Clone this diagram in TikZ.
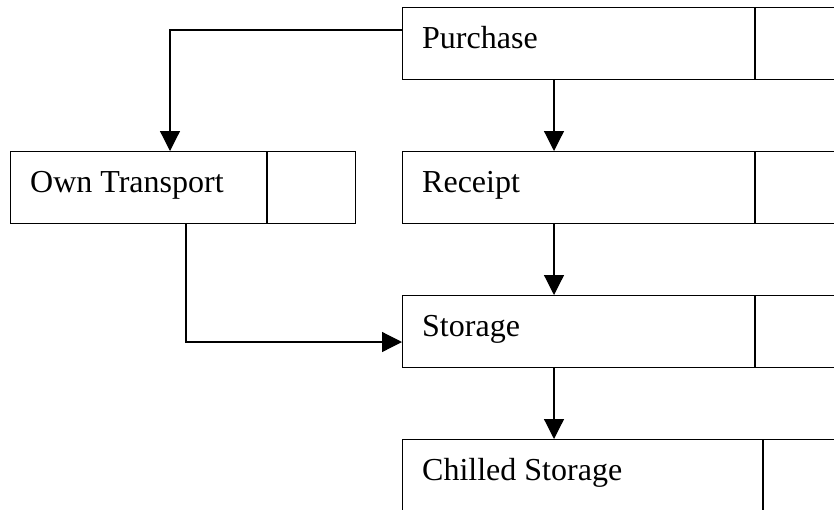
\documentclass[tikz,border=0pt]{standalone}
\usepackage{fontspec}
\setmainfont{Liberation Serif}
\usetikzlibrary{arrows.meta,calc}
\begin{document}
\begin{tikzpicture}[x=1pt,y=1pt,
  box/.style={draw=black,line width=1.2pt,rectangle,inner sep=0pt,minimum height=72pt,anchor=north west},
  lbl/.style={inner sep=0pt,anchor=base west,font=\fontsize{32}{38}\selectfont},
  arr/.style={draw=black,line width=1.2pt,-{Triangle[length=20pt,width=20pt]}},
  conn/.style={draw=black,line width=1.2pt}]
\useasboundingbox (0,0) rectangle (834,-509);
\clip (0,0) rectangle (834,-509);
\fill[white] (0,0) rectangle (834,-509);
% Purchase
\node[box,minimum width=352pt] (pur) at (402,-7) {};
\node[box,minimum width=120pt] (purs) at (pur.north east) {};
\node[lbl] (purt) at ($(pur.north west)+(20,-41)$) {Purchase};
% Own Transport
\node[box,minimum width=256pt] (own) at (10,-151) {};
\node[box,minimum width=88pt] (owns) at (own.north east) {};
\node[lbl] (ownt) at ($(own.north west)+(20,-41)$) {Own Transport};
% Receipt
\node[box,minimum width=352pt] (rec) at (402,-151) {};
\node[box,minimum width=120pt] (recs) at (rec.north east) {};
\node[lbl] (rect) at ($(rec.north west)+(20,-41)$) {Receipt};
% Storage
\node[box,minimum width=352pt] (sto) at (402,-295) {};
\node[box,minimum width=120pt] (stos) at (sto.north east) {};
\node[lbl] (stot) at ($(sto.north west)+(20,-41)$) {Storage};
% Chilled Storage
\node[box,minimum width=360pt,minimum height=120pt] (chi) at (402,-439) {};
\node[box,minimum width=120pt,minimum height=120pt] (chis) at (chi.north east) {};
\node[lbl] (chit) at ($(chi.north west)+(20,-41)$) {Chilled Storage};
% connectors
\draw[arr] ([yshift=-23pt]pur.north west) -| ([xshift=160pt]own.north west);
\draw[arr] ([xshift=152pt]pur.south west) -- ([xshift=152pt]rec.north west);
\draw[arr] ([xshift=152pt]rec.south west) -- ([xshift=152pt]sto.north west);
\draw[arr] ([xshift=152pt]sto.south west) -- ([xshift=152pt]chi.north west);
\draw[arr] ([xshift=176pt]own.south west) |- ([yshift=-47pt]sto.north west);
\end{tikzpicture}
\end{document}
